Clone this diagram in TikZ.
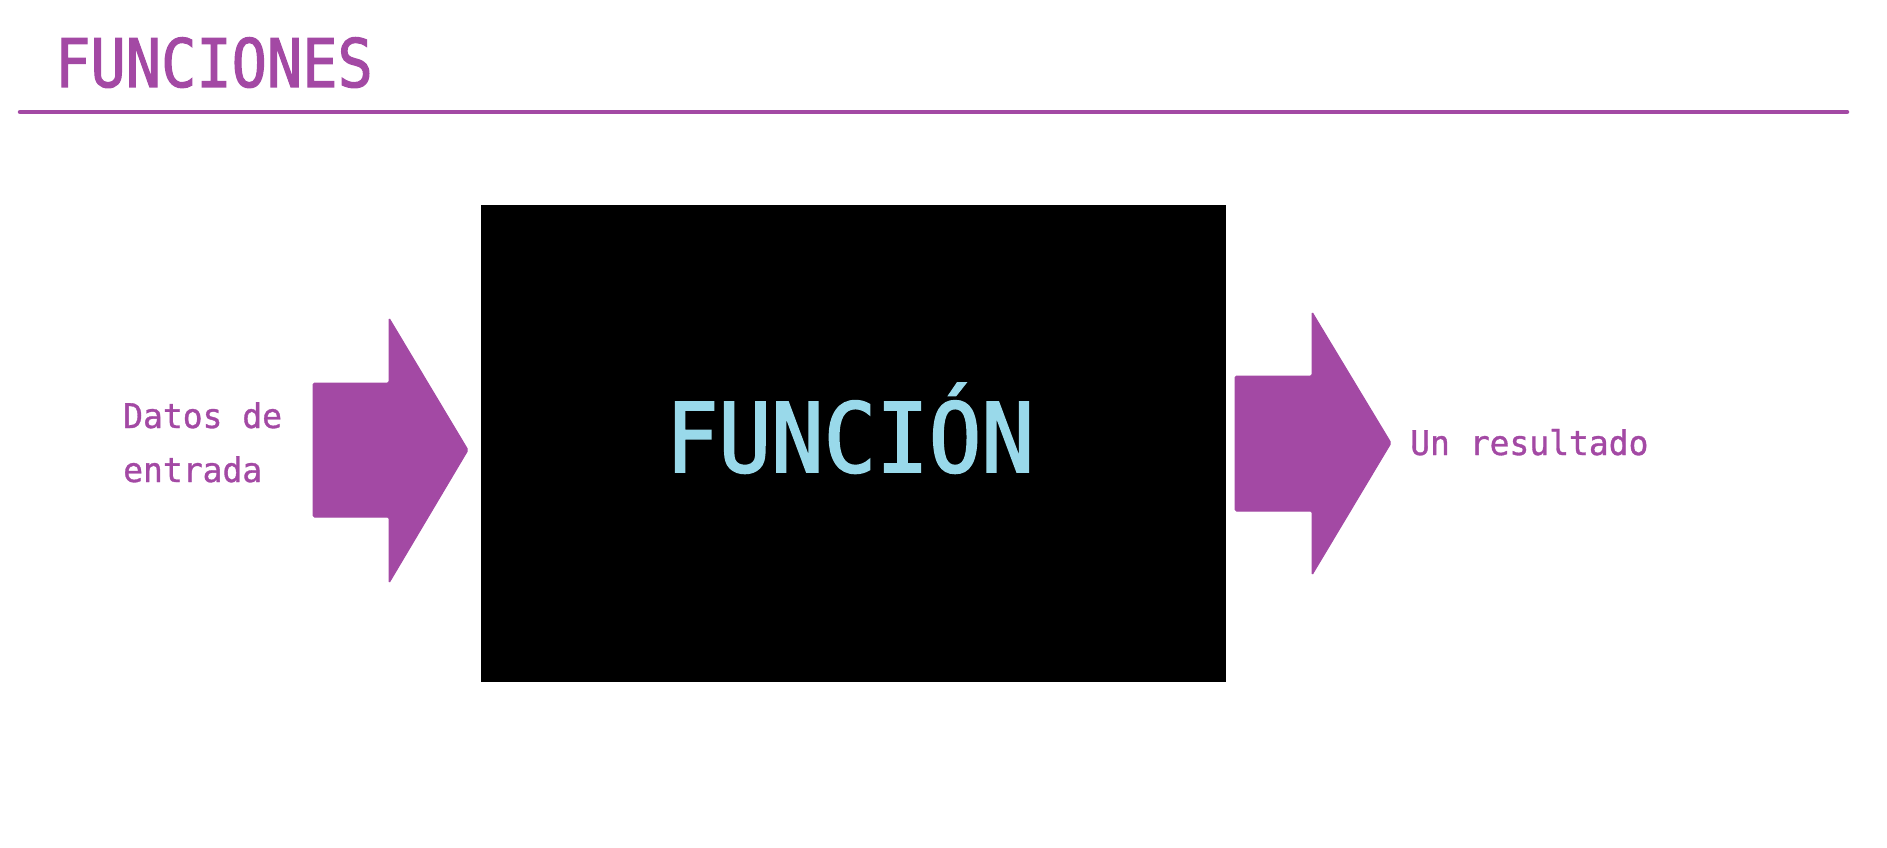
\documentclass[tikz,border=0pt]{standalone}
\usepackage{fontspec}
\newfontfamily\bigmono[FakeStretch=0.875,FakeBold=1.6]{DejaVu Sans Mono}
\newfontfamily\fnmono[FakeStretch=0.91,FakeBold=2]{DejaVu Sans Mono}
\newfontfamily\smallmono[FakeStretch=0.97,FakeBold=1]{DejaVu Sans Mono}
\definecolor{fpurple}{RGB}{163,73,164}
\definecolor{fblue}{RGB}{153,217,234}
\tikzset{
  bigarrow/.style={fill=fpurple, draw=fpurple, line width=1pt, rounded corners=1.5pt},
  lbl/.style={text=fpurple, inner sep=0pt, anchor=base west, font=\smallmono\fontsize{34}{54}\selectfont},
}
\begin{document}
\begin{tikzpicture}[x=1pt,y=-1pt]
\useasboundingbox (0,0) rectangle (1887,848);
% title
\node[text=fpurple, inner sep=0pt, anchor=base west, font=\bigmono\fontsize{67}{67}\selectfont] (title) at (55,87) {FUNCIONES};
\coordinate (rl) at (20,112);
\coordinate (rr) at (1847,112);
\draw[fpurple, line width=4.5pt, line cap=round] (rl) -- (rr);
% function box
\node[fill=black, minimum width=745pt, minimum height=477pt, inner sep=0pt, anchor=north west] (box) at (481,205) {};
\node[text=fblue, inner sep=0pt, anchor=base, font=\fnmono\fontsize{96}{96}\selectfont] (fn) at (850,472) {FUNCIÓN};
% arrows
\draw[bigarrow] (313,383) -- (389,383) -- (389,318) -- (468,450) -- (389,583) -- (389,517) -- (313,517) -- cycle;
\draw[bigarrow] (1235,376) -- (1312,376) -- (1312,312) -- (1391,443) -- (1312,575) -- (1312,511) -- (1235,511) -- cycle;
% labels
\node[lbl] (in1) at (123,428) {Datos de};
\node[lbl] (in2) at (123,482) {entrada};
\node[lbl] (out) at (1410,455) {Un resultado};
\end{tikzpicture}
\end{document}
